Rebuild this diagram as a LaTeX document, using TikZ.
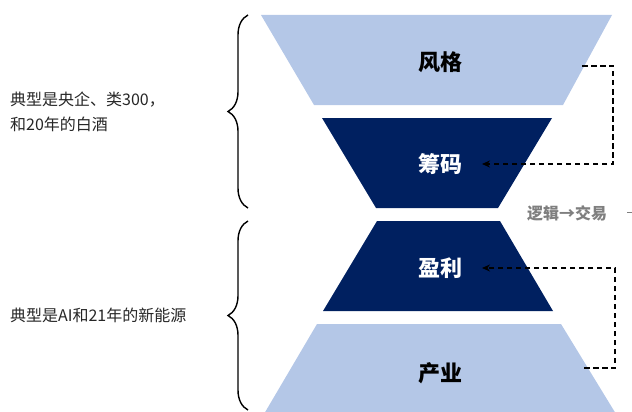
\documentclass[tikz,border=0pt]{standalone}
\usepackage{fontspec}
\setmainfont{Liberation Sans}
\newfontfamily\cjk{Noto Sans CJK SC}
\usetikzlibrary{arrows.meta,decorations.pathreplacing}
\definecolor{lightblue}{HTML}{B4C7E7}
\definecolor{navy}{HTML}{002060}
\definecolor{txtgray}{HTML}{7F7F7F}
\definecolor{txtdark}{HTML}{262626}
\tikzset{
  layerlight/.style={fill=lightblue},
  layerdark/.style={fill=navy},
  lbllight/.style={font=\cjk\bfseries\fontsize{22}{24}\selectfont, text=black, inner sep=0pt},
  lbldark/.style={font=\cjk\bfseries\fontsize{22}{24}\selectfont, text=white, inner sep=0pt},
  sidetext/.style={font=\cjk\fontsize{16}{25}\selectfont, text=txtdark, align=left, anchor=west, inner sep=0pt},
  dashlink/.style={draw=black, line width=1.8pt, dash pattern=on 5.5pt off 3.5pt},
  bracestyle/.style={draw=black, line width=1.4pt, decorate, decoration={brace, amplitude=20pt}}
}
\begin{document}
\begin{tikzpicture}[x=1pt,y=-1pt]
\useasboundingbox (0,0) rectangle (632,412);
\begin{scope}
\clip (0,0) rectangle (632,412);
% layers
\fill[layerlight] (261,15) -- (612,15) -- (563,105) -- (314,105) -- cycle;
\fill[layerdark] (322,118) -- (552,118) -- (498,208) -- (376,208) -- cycle;
\fill[layerdark] (377,221) -- (500,221) -- (553,311) -- (323,311) -- cycle;
\fill[layerlight] (317,324) -- (561,324) -- (616,414) -- (264,414) -- cycle;
\end{scope}
% labels
\node[lbllight] (fg) at (440,62) {风格};
\node[lbldark] (cm) at (440,164) {筹码};
\node[lbldark] (yl) at (440,268) {盈利};
\node[lbllight] (cy) at (440,373) {产业};
% dashed links
\coordinate (s1) at (582,66);
\coordinate (c1) at (613,66);
\coordinate (c2) at (613,164);
\coordinate (t1) at (482,164);
\draw[dashlink, -{Stealth[length=8pt,width=7pt]}] (s1) -- (c1) -- (c2) -- (t1);
\coordinate (s2) at (584,368);
\coordinate (c3) at (615,368);
\coordinate (c4) at (615,268);
\coordinate (t2) at (482,268);
\draw[dashlink, -{Stealth[length=8pt,width=7pt]}] (s2) -- (c3) -- (c4) -- (t2);
% middle label
\node[font=\cjk\bfseries\fontsize{16}{18}\selectfont, text=txtgray, inner sep=0pt] (lj) at (567,213) {逻辑→交易};
\coordinate (g1) at (627,212);
\coordinate (g2) at (632,212);
\draw[txtgray, line width=1pt] (g1) -- (g2);
% braces
\coordinate (b1s) at (248,208);
\coordinate (b1e) at (248,15);
\draw[bracestyle] (b1s) -- (b1e);
\coordinate (b2s) at (248,410);
\coordinate (b2e) at (248,221);
\draw[bracestyle] (b2s) -- (b2e);
% side texts
\node[sidetext] (st1) at (10,112) {典型是央企、类300，\\和20年的白酒};
\node[sidetext] (st2) at (10,315) {典型是AI和21年的新能源};
\end{tikzpicture}
\end{document}
